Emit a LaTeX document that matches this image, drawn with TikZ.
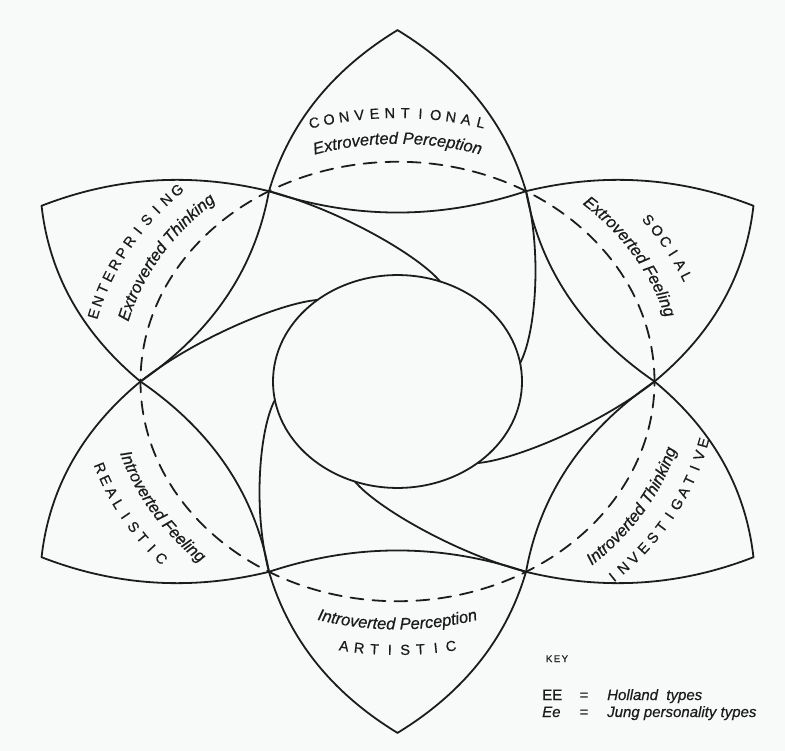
\documentclass[tikz,border=0pt]{standalone}
\usepackage{fontspec}
\setmainfont{Liberation Sans}[FakeBold=0.6]
\usetikzlibrary{decorations.text}
\definecolor{paper}{RGB}{247,250,249}
\definecolor{ink}{RGB}{28,28,28}
\newcommand\jungfont{\fontsize{16.5}{16.5}\selectfont\itshape}
% caps label, letter by letter, along the ellipse of radius 314 (unsquashed)
\newcommand\arcletters[5]{%
  \foreach \ch [count=\i] in {#5} {%
    \pgfmathsetmacro\ang{(#2)+(#3)*((#4+1)/2-\i)*2.8}%
    \pgfmathsetmacro\myrot{atan2(-(#3)*0.855*cos(\ang), (#3)*sin(\ang))}%
    \node[capletter, rotate=\myrot] (#1-\i) at (\ang:314 and 268.47) {\ch};
  }}
% Jung label along an elliptical arc
\newcommand\jungtext[4]{%
  \pgfmathsetmacro\sa{(#1)+(#2)*48}%
  \pgfmathsetmacro\ea{(#1)-(#2)*48}%
  \pgfmathsetmacro\yr{0.855*#3}%
  \path[decorate, decoration={text along path, text align=center,
      text={|\jungfont\color{ink}|#4}}]
    (\sa:#3 and \yr) arc[start angle=\sa, end angle=\ea, x radius=#3, y radius=\yr];
}
\begin{document}
\begin{tikzpicture}[x=1pt, y=1pt, line cap=round, line join=round,
  edge/.style={draw=ink, line width=1.8pt},
  dashring/.style={draw=ink, line width=1.8pt, dash pattern=on 13pt off 9pt},
  capletter/.style={font=\fontsize{14.5}{14.5}\selectfont, text=ink, inner sep=0pt},
  keytext/.style={font=\fontsize{15}{15}\selectfont, text=ink, inner sep=0pt},
  keyital/.style={font=\fontsize{15}{15}\selectfont\itshape, text=ink, inner sep=0pt}]
\fill[paper] (0,0) rectangle (785,-751);
\useasboundingbox (0,0) rectangle (785,-751);
\coordinate (O) at (397.5,-381.5);

% petals, pinwheel arcs, central circle, dashed ring
\begin{scope}[shift={(O)}, yscale=0.855]
  \foreach \k in {0,...,5} {
    \begin{scope}[rotate=60*\k]
      \coordinate (P) at (0,411);
      \coordinate (VL) at (-128.5,222.6);
      \coordinate (VR) at (128.5,222.6);
      \coordinate (C) at (10:124.5);
      \draw[edge] (P) .. controls (-65.96,363.98) and (-108.8,301.18) .. (VL);
      \draw[edge] (P) .. controls (65.96,363.98) and (108.8,301.18) .. (VR);
      \draw[edge] (VL) .. controls (-42.83,189.3) and (42.83,189.3) .. (VR);
      \draw[edge] (VR) .. controls (145,150) and (138,55) .. (C);
    \end{scope}
  }
  \draw[edge] (0,0) circle[radius=124.5];
  \draw[dashring] (0,0) circle[radius=257];
\end{scope}

% labels
\begin{scope}[shift={(O)}]
  \arcletters{conv}{90}{1}{12}{C,O,N,V,E,N,T,I,O,N,A,L}
  \arcletters{ent}{150}{1}{12}{E,N,T,E,R,P,R,I,S,I,N,G}
  \arcletters{soc}{30}{1}{6}{S,O,C,I,A,L}
  \arcletters{inv}{-30}{-1}{13}{I,N,V,E,S,T,I,G,A,T,I,V,E}
  \arcletters{art}{-90}{-1}{8}{A,R,T,I,S,T,I,C}
  \arcletters{real}{210}{-1}{9}{R,E,A,L,I,S,T,I,C}
  \jungtext{90}{1}{278}{Extroverted Perception}
  \jungtext{150}{1}{278}{Extroverted Thinking}
  \jungtext{30}{1}{278}{Extroverted Feeling}
  \jungtext{-30}{-1}{290}{Introverted Thinking}
  \jungtext{-90}{-1}{290}{Introverted Perception}
  \jungtext{210}{-1}{290}{Introverted Feeling}
\end{scope}

% key
\node[font=\fontsize{9.5}{9.5}\selectfont, text=ink, inner sep=0pt, anchor=base] (key) at (557,-662) {K\hspace{1.5pt}E\hspace{1.5pt}Y};
\node[keytext, anchor=base west] (ee1) at (542,-700) {EE};
\node[keytext, anchor=base] (eq1) at (584,-700) {=};
\node[keyital, anchor=base west] (hol) at (607,-700) {Holland\ \ types};
\node[keyital, anchor=base west] (ee2) at (542,-717) {Ee};
\node[keytext, anchor=base] (eq2) at (584,-717) {=};
\node[keyital, anchor=base west] (jung) at (607,-717) {Jung personality types};
\end{tikzpicture}
\end{document}
